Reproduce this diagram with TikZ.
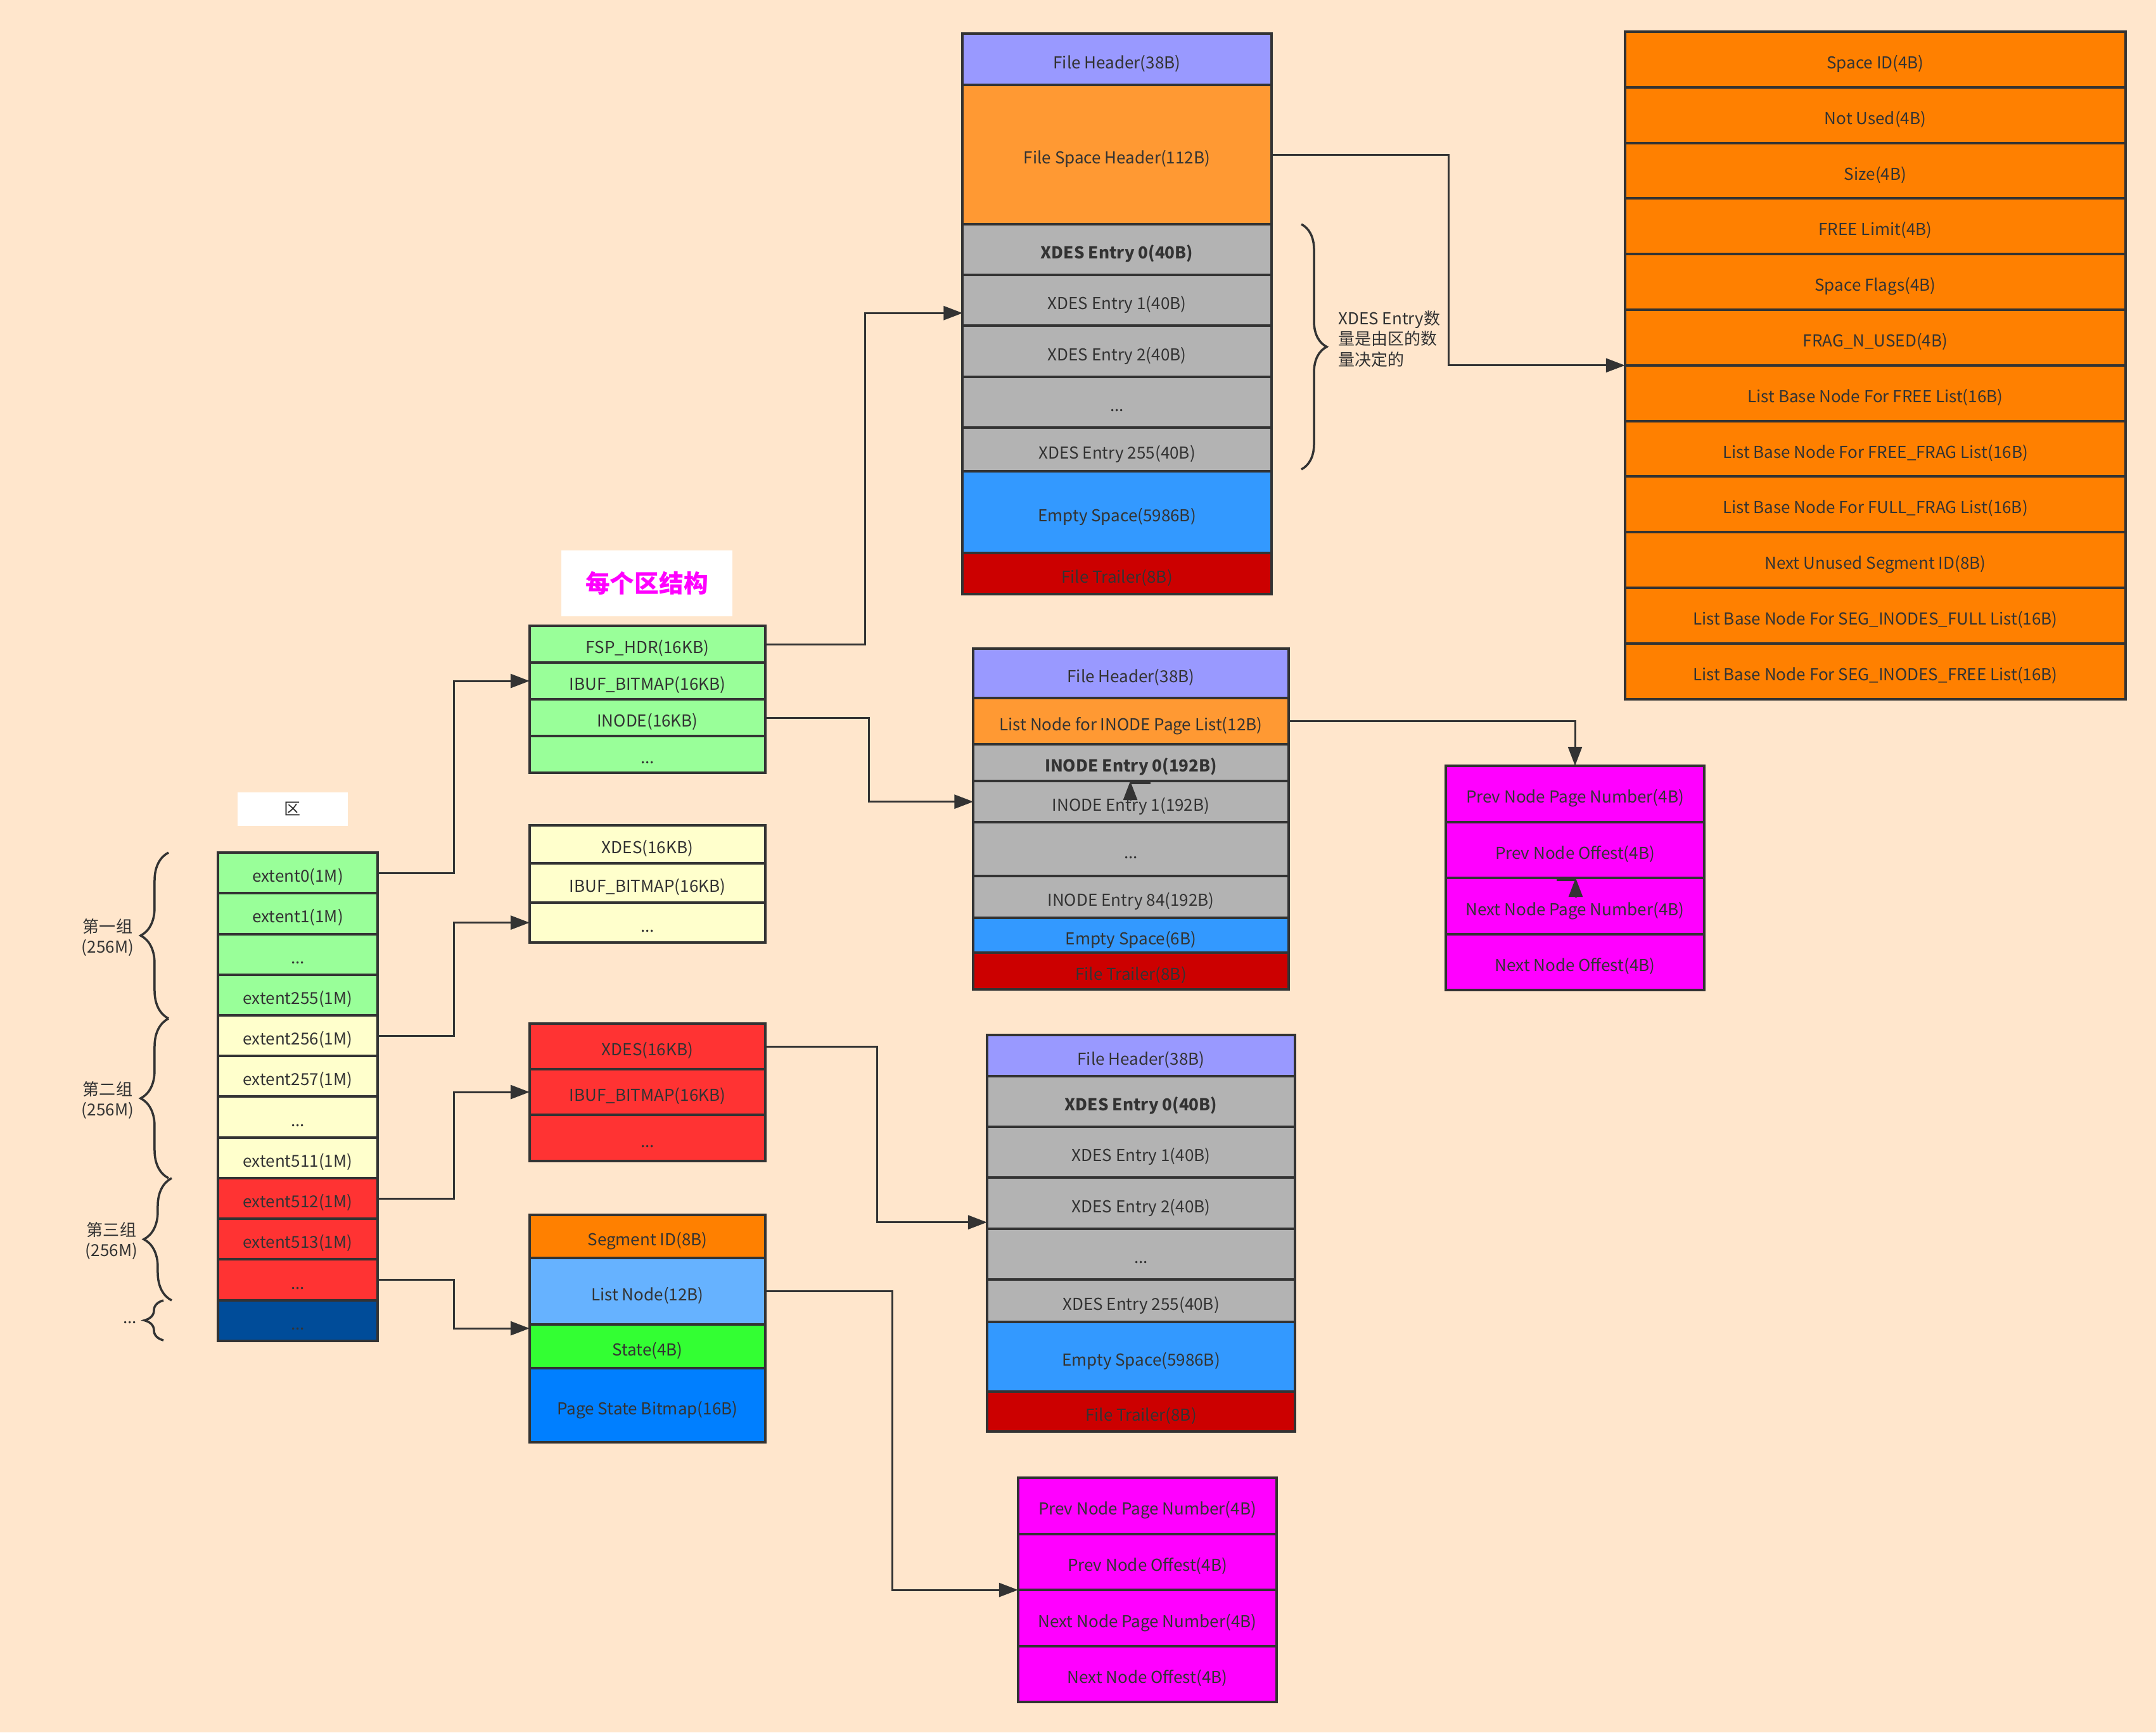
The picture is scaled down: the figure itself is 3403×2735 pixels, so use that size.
\documentclass[tikz,border=0pt]{standalone}
\usepackage{fontspec}
\setmainfont{Noto Sans CJK SC}
\usepackage{tikz}
\usetikzlibrary{arrows.meta,positioning,decorations.pathreplacing}
\definecolor{bgc}{HTML}{FFE6CC}
\definecolor{linec}{HTML}{333333}
\definecolor{textc}{HTML}{333333}
\definecolor{greenb}{HTML}{99FF99}
\definecolor{yellowb}{HTML}{FFFFCC}
\definecolor{redb}{HTML}{FF3333}
\definecolor{navyb}{HTML}{004C99}
\definecolor{lavb}{HTML}{9999FF}
\definecolor{orangel}{HTML}{FF9933}
\definecolor{grayb}{HTML}{B3B3B3}
\definecolor{blueb}{HTML}{3399FF}
\definecolor{darkred}{HTML}{CC0000}
\definecolor{orangeb}{HTML}{FF8000}
\definecolor{magentab}{HTML}{FF00FF}
\definecolor{skyb}{HTML}{66B2FF}
\definecolor{limeb}{HTML}{33FF33}
\definecolor{azureb}{HTML}{007FFF}

\begin{document}
\begin{tikzpicture}[
x=0.01cm, y=-0.01cm,
font=\fontsize{7.4pt}{9.2pt}\selectfont,
cell/.style={draw=linec, line width=0.04cm, outer sep=0pt, inner sep=0pt, text=textc,
  text height=0.95em, text depth=0.12em},
extcol/.style={cell, minimum width=2.52cm, minimum height=0.642cm},
segcol/.style={cell, minimum width=3.72cm},
toppage/.style={cell, minimum width=4.87cm},
inopage/.style={cell, minimum width=4.97cm},
botpage/.style={cell, minimum width=4.86cm},
fsplist/.style={cell, minimum width=7.90cm, minimum height=0.8775cm, fill=orangeb},
nodelist/.style={cell, minimum width=4.08cm, minimum height=0.885cm, fill=magentab},
conn/.style={draw=linec, line width=0.03cm, ->, >={Triangle[length=0.3cm,width=0.22cm]}},
grpbrace/.style={draw=linec, line width=0.035cm, decorate, decoration={brace, amplitude=0.44cm}}
]
% Background
\fill[bgc] (0,0) rectangle (3403,2735);
\useasboundingbox (0,0) rectangle (3403,2735);

% Extents
\node[fill=white, minimum width=1.74cm, minimum height=0.53cm, text=textc] (qu) at (462,1277) {区};
\node[extcol, fill=greenb, anchor=north] (ext0) at (470,1346) {extent0(1M)};
\node[extcol, fill=greenb, below=0pt of ext0] (ext1) {extent1(1M)};
\node[extcol, fill=greenb, below=0pt of ext1] (extd1) {...};
\node[extcol, fill=greenb, below=0pt of extd1] (ext255) {extent255(1M)};
\node[extcol, fill=yellowb, below=0pt of ext255] (ext256) {extent256(1M)};
\node[extcol, fill=yellowb, below=0pt of ext256] (ext257) {extent257(1M)};
\node[extcol, fill=yellowb, below=0pt of ext257] (extd2) {...};
\node[extcol, fill=yellowb, below=0pt of extd2] (ext511) {extent511(1M)};
\node[extcol, fill=redb, below=0pt of ext511] (ext512) {extent512(1M)};
\node[extcol, fill=redb, below=0pt of ext512] (ext513) {extent513(1M)};
\node[extcol, fill=redb, below=0pt of ext513] (extd3) {...};
\node[extcol, fill=navyb, below=0pt of extd3] (extd4) {...};

% Groups
\draw[grpbrace] (266,1608) -- (266,1346);
\draw[grpbrace] (266,1860) -- (266,1608);
\draw[grpbrace] (271,2053) -- (271,1860);
\draw[grpbrace, decoration={brace, amplitude=0.3cm}] (258,2116) -- (258,2053);
\node[text=textc, align=center] (grp1) at (170,1480) {第一组\\(256M)};
\node[text=textc, align=center] (grp2) at (170,1737) {第二组\\(256M)};
\node[text=textc, align=center] (grp3) at (176,1959) {第三组\\(256M)};
\node[text=textc] (grp4) at (205,2088) {...};

% Pages of one extent
\node[fill=white, minimum width=2.69cm, minimum height=1.04cm, text=magentab,
  font=\fontsize{11pt}{13pt}\selectfont\bfseries] (title) at (1021,921) {每个区结构};
\node[segcol, fill=greenb, minimum height=0.58cm, anchor=north] (gfsp) at (1022,988) {FSP\_HDR(16KB)};
\node[segcol, fill=greenb, minimum height=0.58cm, below=0pt of gfsp] (gibuf) {IBUF\_BITMAP(16KB)};
\node[segcol, fill=greenb, minimum height=0.58cm, below=0pt of gibuf] (ginode) {INODE(16KB)};
\node[segcol, fill=greenb, minimum height=0.58cm, below=0pt of ginode] (gdots) {...};

\node[segcol, fill=yellowb, minimum height=0.60cm, anchor=north] (yxdes) at (1022,1303) {XDES(16KB)};
\node[segcol, fill=yellowb, minimum height=0.62cm, below=0pt of yxdes] (yibuf) {IBUF\_BITMAP(16KB)};
\node[segcol, fill=yellowb, minimum height=0.63cm, below=0pt of yibuf] (ydots) {...};

\node[segcol, fill=redb, minimum height=0.72cm, anchor=north] (rxdes) at (1022,1616) {XDES(16KB)};
\node[segcol, fill=redb, minimum height=0.72cm, below=0pt of rxdes] (ribuf) {IBUF\_BITMAP(16KB)};
\node[segcol, fill=redb, minimum height=0.73cm, below=0pt of ribuf] (rdots) {...};

\node[segcol, fill=orangeb, minimum height=0.68cm, anchor=north] (segid) at (1022,1918) {Segment ID(8B)};
\node[segcol, fill=skyb, minimum height=1.05cm, below=0pt of segid] (lstnode) {List Node(12B)};
\node[segcol, fill=limeb, minimum height=0.69cm, below=0pt of lstnode] (state) {State(4B)};
\node[segcol, fill=azureb, minimum height=1.17cm, below=0pt of state] (bitmap) {Page State Bitmap(16B)};

% FSP_HDR page
\node[toppage, fill=lavb, minimum height=0.81cm, anchor=north] (tfh) at (1763,53) {File Header(38B)};
\node[toppage, fill=orangel, minimum height=2.20cm, below=0pt of tfh] (tfsh) {File Space Header(112B)};
\node[toppage, fill=grayb, minimum height=0.80cm, below=0pt of tfsh, font=\fontsize{7.4pt}{9.2pt}\selectfont\bfseries] (txe0) {XDES Entry 0(40B)};
\node[toppage, fill=grayb, minimum height=0.80cm, below=0pt of txe0] (txe1) {XDES Entry 1(40B)};
\node[toppage, fill=grayb, minimum height=0.81cm, below=0pt of txe1] (txe2) {XDES Entry 2(40B)};
\node[toppage, fill=grayb, minimum height=0.80cm, below=0pt of txe2] (txed) {...};
\node[toppage, fill=grayb, minimum height=0.69cm, below=0pt of txed] (txe255) {XDES Entry 255(40B)};
\node[toppage, fill=blueb, minimum height=1.29cm, below=0pt of txe255] (tempty) {Empty Space(5986B)};
\node[toppage, fill=darkred, minimum height=0.64cm, below=0pt of tempty] (ttrail) {File Trailer(8B)};
\draw[grpbrace, decoration={brace, amplitude=0.4cm}] (2054,354) -- (2054,741);
\node[anchor=west, align=left, text=textc] (xnote) at (2100,535) {XDES Entry数\\量是由区的数\\量决定的};

% File Space Header fields
\node[fsplist, anchor=north] (s1) at (2960,50) {Space ID(4B)};
\foreach \t [count=\i from 2, evaluate=\i as \p using int(\i-1)] in
  {Not Used(4B), Size(4B), FREE Limit(4B), Space Flags(4B), FRAG\_N\_USED(4B),
   List Base Node For FREE List(16B), List Base Node For FREE\_FRAG List(16B),
   List Base Node For FULL\_FRAG List(16B), Next Unused Segment ID(8B),
   List Base Node For SEG\_INODES\_FULL List(16B), List Base Node For SEG\_INODES\_FREE List(16B)}
  \node[fsplist, below=0pt of s\p] (s\i) {\t};

% INODE page
\node[inopage, fill=lavb, minimum height=0.78cm, anchor=north] (ifh) at (1785,1024) {File Header(38B)};
\node[inopage, fill=orangel, minimum height=0.73cm, below=0pt of ifh] (ilist) {List Node for INODE Page List(12B)};
\node[inopage, fill=grayb, minimum height=0.58cm, below=0pt of ilist, font=\fontsize{7.4pt}{9.2pt}\selectfont\bfseries] (ie0) {INODE Entry 0(192B)};
\node[inopage, fill=grayb, minimum height=0.65cm, below=0pt of ie0] (ie1) {INODE Entry 1(192B)};
\node[inopage, fill=grayb, minimum height=0.85cm, below=0pt of ie1] (ied) {...};
\node[inopage, fill=grayb, minimum height=0.66cm, below=0pt of ied] (ie84) {INODE Entry 84(192B)};
\node[inopage, fill=blueb, minimum height=0.55cm, below=0pt of ie84] (iempty) {Empty Space(6B)};
\node[inopage, fill=darkred, minimum height=0.58cm, below=0pt of iempty] (itrail) {File Trailer(8B)};

% XDES page
\node[botpage, fill=lavb, minimum height=0.65cm, anchor=north] (bfh) at (1801,1634) {File Header(38B)};
\node[botpage, fill=grayb, minimum height=0.80cm, below=0pt of bfh, font=\fontsize{7.4pt}{9.2pt}\selectfont\bfseries] (bxe0) {XDES Entry 0(40B)};
\node[botpage, fill=grayb, minimum height=0.80cm, below=0pt of bxe0] (bxe1) {XDES Entry 1(40B)};
\node[botpage, fill=grayb, minimum height=0.81cm, below=0pt of bxe1] (bxe2) {XDES Entry 2(40B)};
\node[botpage, fill=grayb, minimum height=0.80cm, below=0pt of bxe2] (bxed) {...};
\node[botpage, fill=grayb, minimum height=0.67cm, below=0pt of bxed] (bxe255) {XDES Entry 255(40B)};
\node[botpage, fill=blueb, minimum height=1.10cm, below=0pt of bxe255] (bempty) {Empty Space(5986B)};
\node[botpage, fill=darkred, minimum height=0.63cm, below=0pt of bempty] (btrail) {File Trailer(8B)};

% List nodes
\node[nodelist, anchor=north] (mp1) at (2486,1209) {Prev Node Page Number(4B)};
\node[nodelist, below=0pt of mp1] (mo1) {Prev Node Offest(4B)};
\node[nodelist, below=0pt of mo1] (mn1) {Next Node Page Number(4B)};
\node[nodelist, below=0pt of mn1] (mf1) {Next Node Offest(4B)};

\node[nodelist, anchor=north] (mp2) at (1811,2333) {Prev Node Page Number(4B)};
\node[nodelist, below=0pt of mp2] (mo2) {Prev Node Offest(4B)};
\node[nodelist, below=0pt of mo2] (mn2) {Next Node Page Number(4B)};
\node[nodelist, below=0pt of mn2] (mf2) {Next Node Offest(4B)};

% Connectors
\draw[conn] (ext0.east) -- ++(120,0) |- (gibuf.west);
\draw[conn] (ext256.east) -- ++(120,0) |- (ydots.west);
\draw[conn] (ext512.east) -- ++(120,0) |- (ribuf.west);
\draw[conn] (extd3.east) -- ++(120,0) |- ([yshift=-0.06cm]state.north west);
\draw[conn] (gfsp.east) -- ++(157,0) |- ([yshift=-0.2cm]txe1.west);
\draw[conn] (ginode.east) -- ++(163,0) |- (ie1.west);
\draw[conn] (rxdes.east) -- ++(176,0) |- ([yshift=-0.3cm]bxe2.west);
\draw[conn] (lstnode.east) -- ++(200,0) |- (mn2.north west);
\draw[conn] (tfsh.east) -- ++(280,0) |- (s7.north west);
\draw[conn] (ilist.east) -| (mp1.north);

% Loose arrow ends
\coordinate (inotail) at (1784,1264);
\draw[linec, line width=0.03cm] (1784,1236) -- (1816,1236);
\draw[conn] (inotail) -- (inotail |- ie0.south);
\coordinate (mtail) at (2487,1417);
\draw[linec, line width=0.03cm] (2457,1389) -- (2487,1389);
\draw[conn] (mtail) -- (mtail |- mo1.south);
\end{tikzpicture}
\end{document}
